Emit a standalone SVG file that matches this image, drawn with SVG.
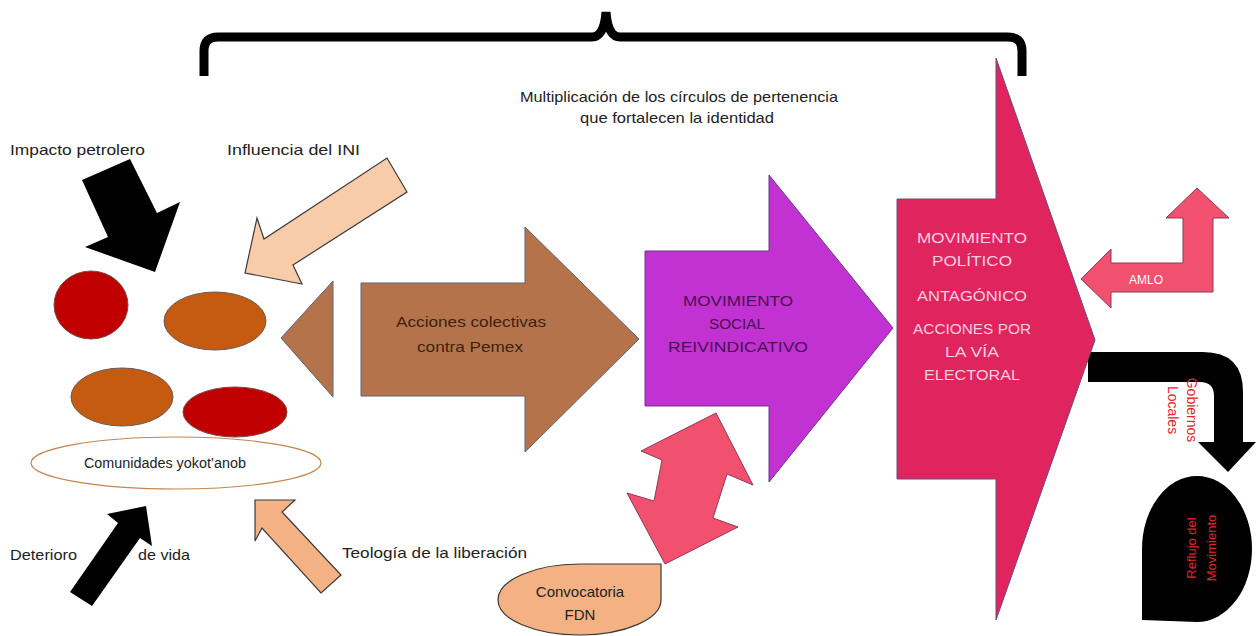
<svg xmlns="http://www.w3.org/2000/svg" width="1256" height="636" viewBox="0 0 1256 636">
<style>
text{font-family:"Liberation Sans","DejaVu Sans",sans-serif}
.lbl{font-size:15px;fill:#222}
.cap{font-size:14px;text-anchor:middle}
.cs{font-size:15px;text-anchor:middle}
.blk{fill:#000}
.peach{fill:#f8cba9;stroke:#3a3a3a;stroke-width:1.2}
.peach2{fill:#f4b183;stroke:#3a3a3a;stroke-width:1.2}
.brown{fill:#b5734b;stroke:#5b6478;stroke-width:1}
.purple{fill:#c232d2;stroke:#6a3a8a;stroke-width:1}
.crim{fill:#e0245e;stroke:#6a4a7a;stroke-width:1}
.pink{fill:#f2506f;stroke:#8a3a5a;stroke-width:1}
.red{fill:#c00000;stroke:#7a4a4a;stroke-width:1}
.orng{fill:#c55a11;stroke:#6a5a5a;stroke-width:1}
.ptxt{fill:#f8cfe0;font-size:15px;text-anchor:middle}
.rtxt{fill:#e0262a;font-size:14px;text-anchor:middle}
</style>
<rect width="1256" height="636" fill="#fff"/>

<g id="brace">
<path d="M204,76 L204,51 Q204,37 218,37 L592,37 Q604,37 606,12 Q608,37 620,37 L1008,37 Q1022,37 1022,51 L1022,76" fill="none" stroke="#000" stroke-width="9"/>
<text class="lbl" x="520" y="102" textLength="318" lengthAdjust="spacingAndGlyphs">Multiplicación de los círculos de pertenencia</text>
<text class="lbl" x="580" y="123" textLength="194" lengthAdjust="spacingAndGlyphs">que fortalecen la identidad</text>
</g>

<g id="connectors">
<polygon id="arrow-impacto" class="blk" points="82,180 130,159 157,213 180,202 155,272 85,247 108,237"/>
<polygon id="arrow-ini" class="peach" points="387,158 407,192 293,265 302,284 245,273 257,218 264,239"/>
<polygon id="arrow-deterioro" class="blk" points="70,592 92,606 140,538 152,546 146,506 107,514 118,523"/>
<polygon id="arrow-teologia" class="peach2" points="341,575 321,593 262,528 255,541 255,500 295,500 282,512"/>
<polygon id="arrow-left" class="brown" points="281,338 333,281 333,397"/>
<polygon id="arrow-double" class="pink" points="716,413 753,485 727,474 713,518 738,527 665,564 627,493 654,501 662,460 641,451"/>
<polygon id="arrow-amlo" class="pink" points="1081,279 1111,249 1111,263 1183,263 1183,218 1166,218 1197,188 1229,218 1213,218 1213,292 1111,292 1111,308"/>
<path id="arrow-gobiernos" class="blk" d="M1088,352 L1203,352 Q1243,352 1243,392 L1243,442 L1256,442 L1228,472 L1198,442 L1214,442 L1214,396 Q1214,382 1200,382 L1088,382 Z"/>
</g>

<g id="labels">
<text class="lbl" x="10" y="155" textLength="135" lengthAdjust="spacingAndGlyphs">Impacto petrolero</text>
<text class="lbl" x="227" y="155" textLength="133" lengthAdjust="spacingAndGlyphs">Influencia del INI</text>
<text class="lbl" x="10" y="560" textLength="67" lengthAdjust="spacingAndGlyphs">Deterioro</text>
<text class="lbl" x="138" y="560" textLength="52" lengthAdjust="spacingAndGlyphs">de vida</text>
<text class="lbl" x="342" y="558" textLength="185" lengthAdjust="spacingAndGlyphs">Teología de la liberación</text>
<text x="1146" y="284" fill="#fff" font-size="12" text-anchor="middle">AMLO</text>
<g transform="translate(1178,410) rotate(90)">
<text class="rtxt" x="0" y="-9">Gobiernos</text>
<text class="rtxt" x="0" y="10">Locales</text>
</g>
</g>

<g id="communities">
<ellipse class="red" cx="91" cy="305" rx="37" ry="34"/>
<ellipse class="orng" cx="215" cy="321" rx="51" ry="29"/>
<ellipse class="orng" cx="122" cy="397" rx="51" ry="29"/>
<ellipse class="red" cx="235" cy="412" rx="52" ry="25"/>
</g>

<g id="comunidades">
<ellipse cx="176" cy="463" rx="145" ry="26" fill="#fff" stroke="#c5854e" stroke-width="1.2"/>
<text class="cap" x="165" y="468" fill="#222" style="font-size:14px" textLength="162" lengthAdjust="spacingAndGlyphs">Comunidades yokot’anob</text>
</g>

<g id="acciones">
<polygon class="brown" points="361,283 525,283 525,227 639,339 525,452 525,396 361,396"/>
<text class="cs" x="471" y="327" fill="#3a2410" textLength="150" lengthAdjust="spacingAndGlyphs">Acciones colectivas</text>
<text class="cs" x="470" y="352" fill="#3a2410" textLength="106" lengthAdjust="spacingAndGlyphs">contra Pemex</text>
</g>

<g id="movimiento-social">
<polygon class="purple" points="645,251 769,251 769,175 893,328 769,482 769,406 645,406"/>
<text class="cs" x="738" y="306" fill="#4a1050" textLength="110" lengthAdjust="spacingAndGlyphs">MOVIMIENTO</text>
<text class="cs" x="737" y="329" fill="#4a1050" textLength="56" lengthAdjust="spacingAndGlyphs">SOCIAL</text>
<text class="cs" x="738" y="352" fill="#4a1050" textLength="140" lengthAdjust="spacingAndGlyphs">REIVINDICATIVO</text>
</g>

<g id="movimiento-politico">
<polygon class="crim" points="897,199 996,199 996,58 1095,340 996,620 996,479 897,479"/>
<text class="ptxt" x="972" y="243" textLength="110" lengthAdjust="spacingAndGlyphs">MOVIMIENTO</text>
<text class="ptxt" x="972" y="266" textLength="80" lengthAdjust="spacingAndGlyphs">POLÍTICO</text>
<text class="ptxt" x="972" y="301" textLength="110" lengthAdjust="spacingAndGlyphs">ANTAGÓNICO</text>
<text class="ptxt" x="972" y="334" textLength="118" lengthAdjust="spacingAndGlyphs">ACCIONES POR</text>
<text class="ptxt" x="972" y="357" textLength="54" lengthAdjust="spacingAndGlyphs">LA VÍA</text>
<text class="ptxt" x="972" y="380" textLength="96" lengthAdjust="spacingAndGlyphs">ELECTORAL</text>
</g>

<g id="convocatoria">
<path class="peach2" d="M661,564 L661,600 A82,35 0 0 1 580,635 A82,35 0 0 1 498,600 A82,36 0 0 1 580,564 Z"/>
<text class="cap" x="580" y="597" fill="#222" style="font-size:15px">Convocatoria</text>
<text class="cap" x="580" y="620" fill="#222" style="font-size:15px">FDN</text>
</g>

<g id="reflujo">
<path d="M1142,620 L1142,549 A55,73 0 0 1 1197,476 A55,73 0 0 1 1252,549 A55,73 0 0 1 1197,622 Z" fill="#000"/>
<g transform="translate(1202,548) rotate(-90)">
<text class="rtxt" x="0" y="-6" style="font-size:13px">Reflujo del</text>
<text class="rtxt" x="0" y="14" style="font-size:13px">Movimiento</text>
</g>
</g>
</svg>
